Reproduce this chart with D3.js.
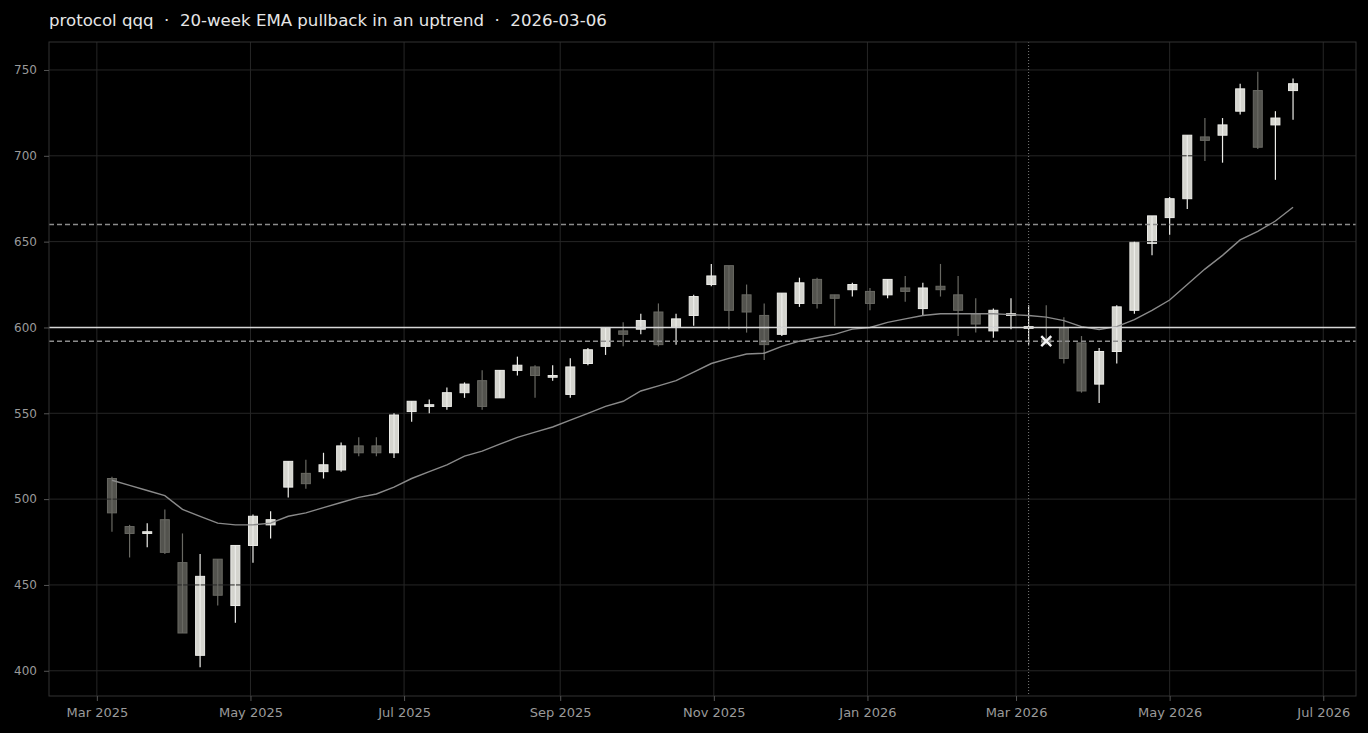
<!DOCTYPE html>
<html>
<head>
<meta charset="utf-8">
<script src="https://cdn.jsdelivr.net/npm/d3@7"></script>
<style>
  html, body { margin: 0; padding: 0; background: #000; }
  svg { display: block; }
</style>
</head>
<body>
<div id="chart"></div>
<script>
// weekly candles (week ending Friday)
const dates = [
  '2025-03-07','2025-03-14','2025-03-21','2025-03-28','2025-04-04','2025-04-11','2025-04-18','2025-04-25',
  '2025-05-02','2025-05-09','2025-05-16','2025-05-23','2025-05-30','2025-06-06','2025-06-13','2025-06-20',
  '2025-06-27','2025-07-04','2025-07-11','2025-07-18','2025-07-25','2025-08-01','2025-08-08','2025-08-15',
  '2025-08-22','2025-08-29','2025-09-05','2025-09-12','2025-09-19','2025-09-26','2025-10-03','2025-10-10',
  '2025-10-17','2025-10-24','2025-10-31','2025-11-07','2025-11-14','2025-11-21','2025-11-28','2025-12-05',
  '2025-12-12','2025-12-19','2025-12-26','2026-01-02','2026-01-09','2026-01-16','2026-01-23','2026-01-30',
  '2026-02-06','2026-02-13','2026-02-20','2026-02-27','2026-03-06','2026-03-13','2026-03-20','2026-03-27',
  '2026-04-03','2026-04-10','2026-04-17','2026-04-24','2026-05-01','2026-05-08','2026-05-15','2026-05-22',
  '2026-05-29','2026-06-05','2026-06-12','2026-06-19'
];
const opens = [
  512, 484, 480, 488, 463, 409, 465, 438, 473, 485, 507, 515, 516, 517, 531, 531,
  527, 551, 554, 554, 562, 569, 559, 575, 577, 571, 561, 579, 589, 598, 599, 609,
  600, 607, 625, 636, 619, 607, 596, 614, 628, 619, 622, 621, 619, 623, 611, 624,
  619, 608, 598, 607, 599.5, 593, 600, 591, 567, 586, 610, 649, 664, 675, 711, 712,
  726, 738, 718, 738
];
const highs = [
  513, 485, 486, 494, 480, 468, 465, 473, 491, 493, 522, 523, 527, 533, 536, 536,
  550, 557, 558, 565, 568, 575, 575, 583, 578, 578, 582, 588, 600, 603, 608, 614,
  608, 619, 637, 636, 625, 614, 620, 629, 629, 619, 626, 623, 628, 630, 626, 637,
  630, 617, 611, 617, 613, 613, 606, 595, 588, 613, 650, 665, 676, 712, 722, 722,
  742, 749, 726, 745
];
const lows = [
  481, 466, 472, 468, 422, 402, 438, 428, 463, 477, 501, 506, 512, 516, 525, 525,
  524, 545, 550, 552, 559, 552, 559, 572, 559, 569, 559, 578, 584, 589, 596, 589,
  590, 601, 624, 599, 597, 581, 595, 612, 611, 601, 618, 610, 617, 615, 607, 618,
  595, 597, 594, 599, 590, 590, 579, 562, 556, 579, 608, 642, 654, 669, 697, 696,
  724, 704, 686, 721
];
const closes = [
  492, 480, 481, 469, 422, 455, 444, 473, 490, 488, 522, 509, 520, 531, 527, 527,
  549, 557, 555, 562, 567, 554, 575, 578, 572, 572, 577, 587, 600, 596, 604, 590,
  605, 618, 630, 610, 609, 590, 620, 626, 614, 617, 625, 614, 628, 621, 623, 622,
  610, 602, 610, 608, 600.5, 591, 582, 563, 586, 612, 650, 665, 675, 712, 709, 718,
  739, 705, 722, 742
];
// 20-week EMA as drawn
const ema20 = [
  511, 508, 505, 502, 494, 490, 486, 485, 485, 486, 490, 492, 495, 498, 501, 503,
  507, 512, 516, 520, 525, 528, 532, 536, 539, 542, 546, 550, 554, 557, 563, 566,
  569, 574, 579, 582, 584.5, 585, 589, 592, 594, 596, 599, 600, 603, 605, 607, 608,
  608, 608, 608, 607.5, 607, 606, 604, 600.5, 598.8, 600.5, 604.5, 610, 616, 625, 634, 642,
  651, 656, 662, 670
];
const refLevel = 600;       // solid level
const bandLevels = [660, 592];  // dashed levels
const signalDate = '2026-03-06';
const entry = { date: '2026-03-13', price: 592 };
const yTicks = [400, 450, 500, 550, 600, 650, 700, 750];
const xTicks = ['2025-03-01','2025-05-01','2025-07-01','2025-09-01','2025-11-01',
                '2026-01-01','2026-03-01','2026-05-01','2026-07-01'];
const title = 'protocol qqq  \u00b7  20-week EMA pullback in an uptrend  \u00b7  2026-03-06';

const W = 1368, H = 733;
const margin = { top: 42, right: 12, bottom: 37, left: 49 };
const iw = W - margin.left - margin.right;
const ih = H - margin.top - margin.bottom;
const parse = d3.utcParse('%Y-%m-%d');

const candles = dates.map((d, i) => ({
  date: parse(d), o: opens[i], h: highs[i], l: lows[i], c: closes[i], ema: ema20[i]
}));

const x = d3.scaleUtc()
  .domain([parse('2025-02-10'), parse('2026-07-14')])
  .range([0, iw]);
const y = d3.scaleLinear().domain([385.3, 766.3]).range([ih, 0]);

const svg = d3.select('#chart').append('svg')
  .attr('width', W).attr('height', H)
  .attr('font-family', '"DejaVu Sans", sans-serif');

svg.append('rect').attr('width', W).attr('height', H).attr('fill', '#000');

svg.append('text')
  .attr('x', margin.left).attr('y', 26)
  .attr('fill', '#e6e6e6').attr('font-size', 16.6)
  .style('white-space', 'pre')
  .text(title);

const g = svg.append('g').attr('transform', `translate(${margin.left},${margin.top})`);

// vertical grid (behind)
g.append('g').selectAll('line').data(xTicks.map(parse)).join('line')
  .attr('x1', d => x(d)).attr('x2', d => x(d))
  .attr('y1', 0).attr('y2', ih)
  .attr('stroke', '#262626').attr('stroke-width', 1);

const bw = 9;
const up = d => d.c >= d.o;

// bodies
g.append('g').selectAll('rect').data(candles).join('rect')
  .attr('x', d => x(d.date) - bw / 2)
  .attr('y', d => y(Math.max(d.o, d.c)))
  .attr('width', bw)
  .attr('height', d => Math.max(1, Math.abs(y(d.o) - y(d.c))))
  .attr('fill', d => up(d) ? '#d4d4ce' : '#53534e')
  .attr('stroke', d => up(d) ? '#ececE8' : '#696963')
  .attr('stroke-width', 1);

// horizontal grid (over bodies)
g.append('g').selectAll('line').data(yTicks).join('line')
  .attr('x1', 0).attr('x2', iw)
  .attr('y1', d => y(d)).attr('y2', d => y(d))
  .attr('stroke', '#262626').attr('stroke-width', 1);

// wicks
g.append('g').selectAll('line').data(candles).join('line')
  .attr('x1', d => x(d.date)).attr('x2', d => x(d.date))
  .attr('y1', d => y(d.h)).attr('y2', d => y(d.l))
  .attr('stroke', d => up(d) ? '#ececE8' : '#696963')
  .attr('stroke-width', 1.2);

// EMA
g.append('path').datum(candles)
  .attr('fill', 'none').attr('stroke', '#8a8a8a').attr('stroke-width', 1.4)
  .attr('d', d3.line().x(d => x(d.date)).y(d => y(d.ema)));

// levels
g.append('line')
  .attr('x1', 0).attr('x2', iw).attr('y1', y(refLevel)).attr('y2', y(refLevel))
  .attr('stroke', '#d6d6d6').attr('stroke-width', 1.6);
g.append('g').selectAll('line').data(bandLevels).join('line')
  .attr('x1', 0).attr('x2', iw).attr('y1', d => y(d)).attr('y2', d => y(d))
  .attr('stroke', '#8c8c8c').attr('stroke-width', 1.4).attr('stroke-dasharray', '5,3');

// signal date marker
g.append('line')
  .attr('x1', x(parse(signalDate))).attr('x2', x(parse(signalDate)))
  .attr('y1', 0).attr('y2', ih)
  .attr('stroke', '#7a7a7a').attr('stroke-width', 1).attr('stroke-dasharray', '1,2');

// entry cross
const ex = x(parse(entry.date)), ey = y(entry.price), s = 5;
g.append('path')
  .attr('d', `M${ex - s},${ey - s}L${ex + s},${ey + s}M${ex - s},${ey + s}L${ex + s},${ey - s}`)
  .attr('stroke', '#f4f4f4').attr('stroke-width', 2.4).attr('fill', 'none');

// frame
g.append('rect').attr('width', iw).attr('height', ih)
  .attr('fill', 'none').attr('stroke', '#333').attr('stroke-width', 1);

// axes
const yAxis = g.append('g')
  .call(d3.axisLeft(y).tickValues(yTicks).tickSize(5).tickPadding(7));
const xAxis = g.append('g').attr('transform', `translate(0,${ih})`)
  .call(d3.axisBottom(x).tickValues(xTicks.map(parse)).tickSize(5).tickPadding(7)
    .tickFormat(d3.utcFormat('%b %Y')));
[yAxis, xAxis].forEach(a => {
  a.select('.domain').remove();
  a.selectAll('line').attr('stroke', '#555');
  a.selectAll('text').attr('fill', '#9a9a9a')
    .attr('font-family', '"DejaVu Sans", sans-serif');
});
yAxis.selectAll('text').attr('font-size', 12);
xAxis.selectAll('text').attr('font-size', 13);
</script>
</body>
</html>
